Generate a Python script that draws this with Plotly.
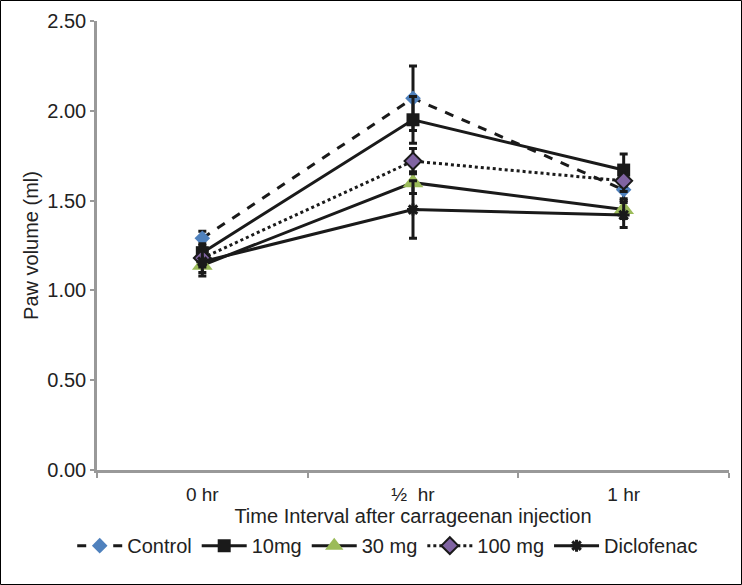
import plotly.graph_objects as go

categories = ["0 hr", "½  hr", "1 hr"]
series_names = ["Control", "10mg", "30 mg", "100 mg", "Diclofenac"]
control = [1.29, 2.07, 1.56]
control_err = [0.04, 0.18, 0.05]
mg10 = [1.21, 1.95, 1.67]
mg10_err = [0.05, 0.13, 0.09]
mg30 = [1.14, 1.60, 1.45]
mg30_err = [0.06, 0.06, 0.05]
mg100 = [1.18, 1.72, 1.61]
mg100_err = [0.05, 0.07, 0.06]
diclofenac = [1.16, 1.45, 1.42]
diclofenac_err = [0.06, 0.16, 0.07]

y_ticks = [0, 0.5, 1.0, 1.5, 2.0, 2.5]
y_ticklabels = ["0.00", "0.50", "1.00", "1.50", "2.00", "2.50"]

styles = [
    dict(values=control, err=control_err, dash="dash", symbol="diamond", size=12,
         color="#4F81BD", lcolor="#4F81BD", lw=0, rank=1),
    dict(values=mg10, err=mg10_err, dash="solid", symbol="square", size=13,
         color="#1a1a1a", lcolor="#1a1a1a", lw=0, rank=2),
    dict(values=mg30, err=mg30_err, dash="solid", symbol="triangle-up", size=18,
         color="#9BBB59", lcolor="#9BBB59", lw=0, rank=3),
    dict(values=mg100, err=mg100_err, dash="dot", symbol="diamond", size=13,
         color="#8064A2", lcolor="#1a1a1a", lw=2, rank=4),
    dict(values=diclofenac, err=diclofenac_err, dash="solid", symbol="asterisk", size=10,
         color="#1a1a1a", lcolor="#1a1a1a", lw=3, rank=5),
]

fig = go.Figure()
for name, st in zip(series_names, styles):
    fig.add_trace(go.Scatter(
        x=categories, y=st["values"], name=name, mode="lines+markers",
        legendrank=st["rank"],
        line=dict(color="#1a1a1a", width=3, dash=st["dash"]),
        marker=dict(symbol=st["symbol"], size=st["size"], color=st["color"],
                    line=dict(color=st["lcolor"], width=st["lw"])),
        error_y=dict(type="data", array=st["err"], visible=True,
                     color="#1a1a1a", thickness=3, width=4),
    ))

W, H = 742, 585
L, R, T, B = 97, 13, 21, 115
pw, ph = W - L - R, H - T - B

fig.add_shape(type="rect", xref="paper", yref="paper",
              x0=(0.5 - L) / pw, x1=(W - 0.5 - L) / pw,
              y0=(-(B - 0.5)) / ph, y1=(ph + T - 0.5) / ph,
              line=dict(color="#000000", width=1), layer="below")

fig.update_layout(
    width=W, height=H,
    margin=dict(l=L, r=R, t=T, b=B, autoexpand=False),
    paper_bgcolor="white", plot_bgcolor="white",
    font=dict(family="Liberation Sans, Arial, sans-serif", size=20, color="#222222"),
    showlegend=True,
    legend=dict(orientation="h", x=0.46, xanchor="center", y=-0.125, yanchor="top",
                font=dict(size=20, color="#222222"), itemwidth=45, tracegroupgap=0),
    xaxis=dict(type="category", range=[-0.5, 2.5], showline=True, linecolor="#999999",
               linewidth=2.5, ticks="outside", tickson="boundaries", ticklen=5,
               tickcolor="#999999", tickwidth=2, showgrid=False, zeroline=False,
               tickfont=dict(size=19), ticklabelstandoff=5,
               title=dict(text="Time Interval after carrageenan injection", standoff=6,
                          font=dict(size=20))),
    yaxis=dict(range=[0, 2.5], tickvals=y_ticks, ticktext=y_ticklabels,
               showline=True, linecolor="#999999", linewidth=2.5, ticks="outside",
               ticklen=4, tickcolor="#999999", tickwidth=2, showgrid=False,
               zeroline=False, tickfont=dict(size=20),
               title=dict(text="Paw volume (ml)", standoff=4, font=dict(size=20))),
)

fig.write_html("out.html", config={"displayModeBar": False},
               post_script="document.body.style.margin='0';document.body.style.padding='0';")
